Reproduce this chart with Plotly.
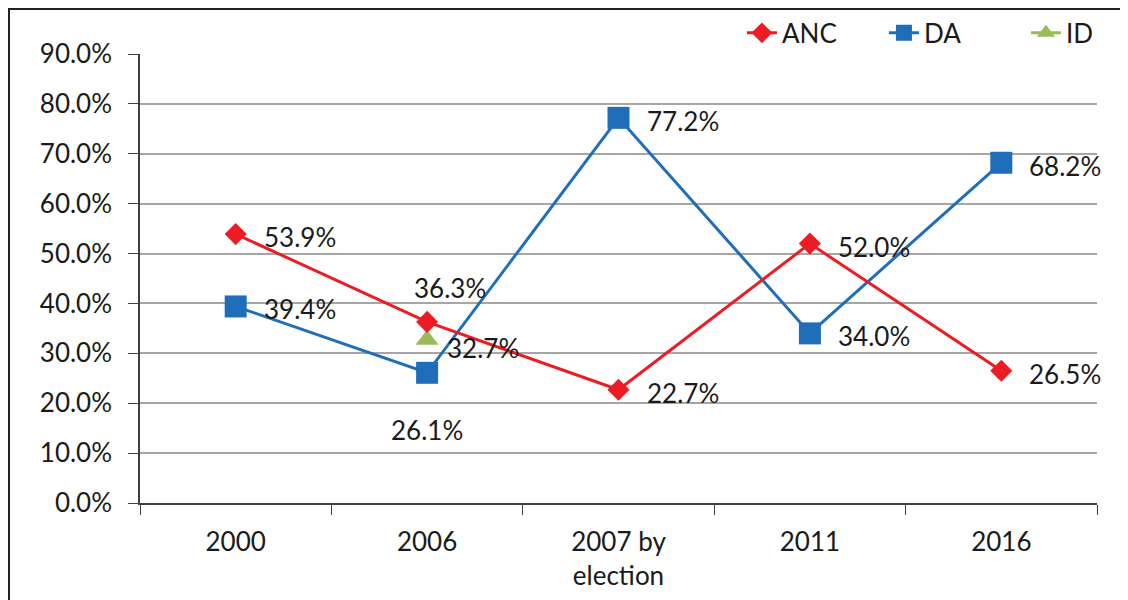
import plotly.graph_objects as go

categories = ["2000", "2006", "2007 by<br>election", "2011", "2016"]
anc = [0.539, 0.363, 0.227, 0.520, 0.265]
da = [0.394, 0.261, 0.772, 0.340, 0.682]
id_cats = ["2006"]
id_vals = [0.327]
y_ticks = [0.0, 0.1, 0.2, 0.3, 0.4, 0.5, 0.6, 0.7, 0.8, 0.9]

RED = "#ED1C24"
BLUE = "#1F6EB9"
GREEN = "#9BBB59"
FONT = "Lato"
TXT = "#1a1a1a"
FS = 26

fig = go.Figure()
fig.add_trace(go.Scatter(x=id_cats, y=id_vals, name="ID", mode="lines+markers",
                         line=dict(color=GREEN, width=3), legendrank=3,
                         marker=dict(symbol="triangle-up", size=20, color=GREEN)))
fig.add_trace(go.Scatter(x=categories, y=da, name="DA", mode="lines+markers",
                         line=dict(color=BLUE, width=3), legendrank=2,
                         marker=dict(symbol="square", size=22, color=BLUE)))
fig.add_trace(go.Scatter(x=categories, y=anc, name="ANC", mode="lines+markers",
                         line=dict(color=RED, width=3), legendrank=1,
                         marker=dict(symbol="diamond", size=17, color=RED)))

def lab(i, y, dx=0, dy=0, anchor="left"):
    fig.add_annotation(x=i, y=y, xref="x", yref="y", text=f"{y*100:.1f}%",
                       showarrow=False, xanchor=anchor, yanchor="middle",
                       xshift=dx, yshift=dy,
                       font=dict(family=FONT, size=FS, color=TXT))

# ANC labels
lab(0, anc[0], 26, -3)
lab(1, anc[1], 23, 34, "center")
lab(2, anc[2], 26, -3)
lab(3, anc[3], 26, -3)
lab(4, anc[4], 26, -3)
# DA labels
lab(0, da[0], 26, -3)
lab(1, da[1], 0, -57, "center")
lab(2, da[2], 26, -3)
lab(3, da[3], 26, -3)
lab(4, da[4], 26, -3)
# ID label
lab(categories.index(id_cats[0]), id_vals[0], 18, -8)

fig.update_layout(
    width=1128, height=600,
    margin=dict(l=132, r=39, t=46, b=105, autoexpand=False),
    paper_bgcolor="white", plot_bgcolor="white",
    font=dict(family=FONT, size=FS, color=TXT),
    showlegend=True,
    legend=dict(orientation="h", x=0.629, xanchor="left", y=1.047, yanchor="middle",
                font=dict(family=FONT, size=FS, color=TXT), entrywidth=97,
                traceorder="normal", bgcolor="rgba(0,0,0,0)"),
    xaxis=dict(type="category", categoryorder="array", categoryarray=categories,
               range=[-0.5, 4.5], showline=True, linecolor="#404040", linewidth=1.5,
               ticks="outside", tickson="boundaries", ticklen=10, tickcolor="#404040",
               showgrid=False, ticklabelstandoff=15,
               tickfont=dict(family=FONT, size=FS, color=TXT)),
    yaxis=dict(range=[0, 0.9], tickvals=y_ticks, tickformat=".1%",
               showline=True, linecolor="#404040", linewidth=1.5,
               ticks="outside", ticklen=10, tickcolor="#404040",
               showgrid=True, gridcolor="#A6A6A6", gridwidth=1.5,
               zeroline=False, ticklabelstandoff=11,
               tickfont=dict(family=FONT, size=FS, color=TXT)),
    shapes=[
        dict(type="rect", xref="paper", yref="paper", x0=-0.1369, x1=1.0397, y0=1.1002, y1=-0.2316,
             line=dict(color="#222", width=2)),
    ],
)

fig.write_html("out.html")
